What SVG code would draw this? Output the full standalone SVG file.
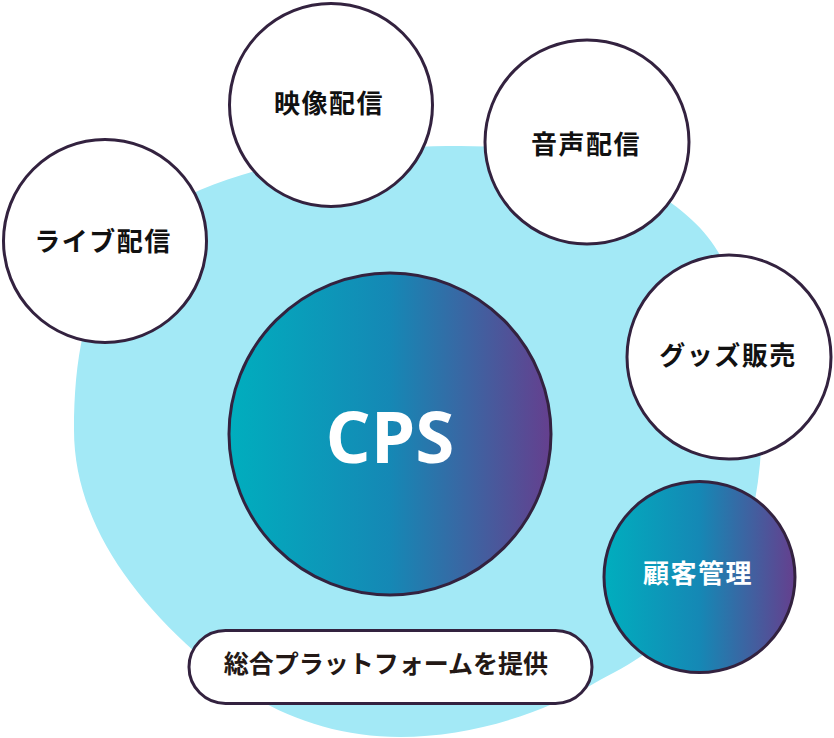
<svg xmlns="http://www.w3.org/2000/svg" width="834" height="738" viewBox="0 0 834 738">
  <defs>
    <linearGradient id="grad" x1="0" y1="0" x2="1" y2="0">
      <stop offset="0" stop-color="#00aebe"/>
      <stop offset="0.5" stop-color="#1588b5"/>
      <stop offset="1" stop-color="#653f8e"/>
    </linearGradient>
  </defs>
  <style>
    .node { stroke: #33223f; stroke-width: 3; }
    .white { fill: #ffffff; }
    .grad { fill: url(#grad); }
    .lbl { font-family: "Noto Sans CJK JP", "Noto Sans", sans-serif; font-weight: 700; font-size: 26px; fill: #111111; text-anchor: middle; letter-spacing: 1.5px; }
    .lblw { fill: #ffffff; }
    .pill { font-family: "Noto Sans CJK JP", "Noto Sans", sans-serif; font-weight: 700; font-size: 25px; fill: #231815; text-anchor: middle; }
    .cps { font-family: "Open Sans", "Lato", sans-serif; font-weight: 700; font-size: 71px; fill: #ffffff; text-anchor: middle; }
  </style>

  <g id="background">
    <path fill="#a3e9f6" d="M 460 146 C 600 146, 690 200, 720 255 C 760 330, 770 420, 755 500 C 740 580, 680 640, 600 680 C 540 715, 470 737, 400 737 C 320 737, 250 705, 195 652 C 120 585, 74 510, 74 430 C 74 320, 100 235, 200 190 C 280 157, 370 146, 460 146 Z"/>
  </g>

  <g id="connectors"></g>

  <g id="node-live">
    <circle class="node white" cx="105" cy="241" r="101.5"/>
    <text class="lbl" x="103" y="251">ライブ配信</text>
  </g>

  <g id="node-video">
    <circle class="node white" cx="331" cy="105" r="101.5"/>
    <text class="lbl" x="329" y="113">映像配信</text>
  </g>

  <g id="node-audio">
    <circle class="node white" cx="587" cy="142" r="102"/>
    <text class="lbl" x="586" y="154">音声配信</text>
  </g>

  <g id="node-goods">
    <circle class="node white" cx="729" cy="357" r="102"/>
    <text class="lbl" x="728" y="365">グッズ販売</text>
  </g>

  <g id="node-cps">
    <circle class="node grad" cx="390" cy="434" r="161"/>
    <text class="cps" x="390" y="463">CPS</text>
  </g>

  <g id="node-crm">
    <circle class="node grad" cx="699.5" cy="577" r="95.5"/>
    <text class="lbl lblw" x="698" y="583">顧客管理</text>
  </g>

  <g id="node-platform">
    <rect class="node white" x="189" y="630.5" width="403" height="73" rx="36.5" ry="36.5"/>
    <text class="pill" x="386" y="673">総合プラットフォームを提供</text>
  </g>
</svg>
